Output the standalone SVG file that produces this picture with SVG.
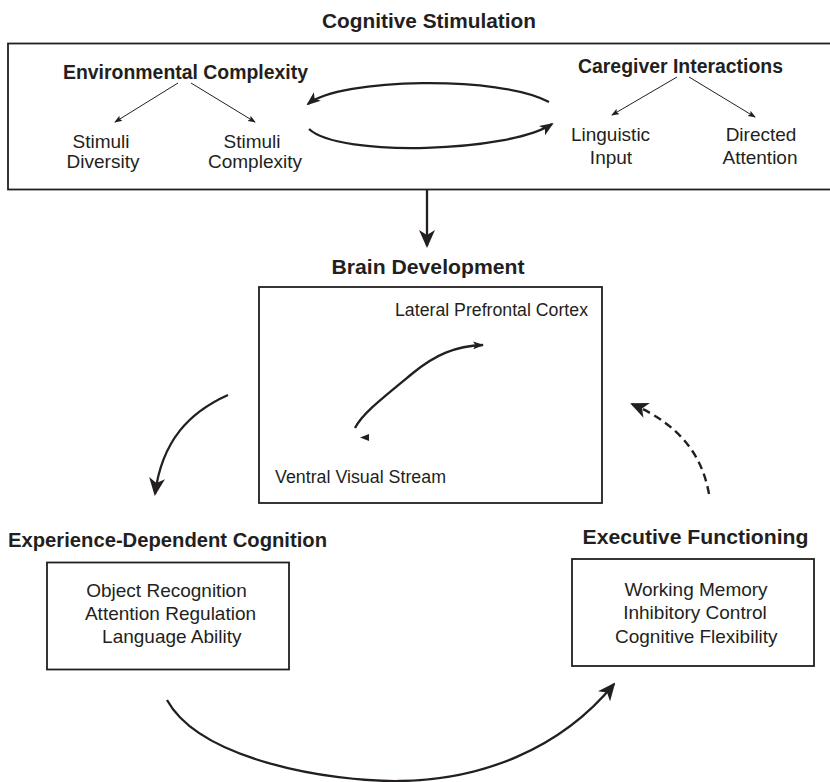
<svg xmlns="http://www.w3.org/2000/svg" width="830" height="782" viewBox="0 0 830 782">
<style>
.bg{fill:#ffffff}
.box{fill:none;stroke:#231f20;stroke-width:1.8}
.t{font-family:"Liberation Sans",Arial,Helvetica,sans-serif;fill:#231f20}
.b{font-weight:bold;font-size:20px}
.r{font-size:19px}
.s{font-size:17.5px}
.m{text-anchor:middle}
.thin{fill:none;stroke:#231f20;stroke-width:1}
.thick{fill:none;stroke:#231f20;stroke-width:2.3}
.dash{fill:none;stroke:#231f20;stroke-width:2.4;stroke-dasharray:8 5}
</style>
<defs>
<marker id="big" markerUnits="userSpaceOnUse" viewBox="0 0 18 16" markerWidth="18" markerHeight="16" refX="16" refY="8" orient="auto">
<path d="M0,0 L18,8 L0,16 L5,8 z" fill="#231f20"/>
</marker>
<marker id="med" markerUnits="userSpaceOnUse" viewBox="0 0 14 11" markerWidth="14" markerHeight="11" refX="12" refY="5.5" orient="auto">
<path d="M0,0 L14,5.5 L0,11 L3.5,5.5 z" fill="#231f20"/>
</marker>
<marker id="inner" markerUnits="userSpaceOnUse" viewBox="0 0 11 8" markerWidth="11" markerHeight="8" refX="10" refY="4" orient="auto">
<path d="M0,0 L11,4 L0,8 L2.5,4 z" fill="#231f20"/>
</marker>
<marker id="sm" markerUnits="userSpaceOnUse" viewBox="0 0 8 6" markerWidth="8" markerHeight="6" refX="7" refY="3" orient="auto">
<path d="M0,0 L8,3 L0,6 L1.5,3 z" fill="#231f20"/>
</marker>
</defs>
<rect class="bg" x="0" y="0" width="830" height="782"/>

<g id="cognitive-stimulation">
<text class="t b m" x="429" y="28" textLength="214" lengthAdjust="spacingAndGlyphs">Cognitive Stimulation</text>
<rect class="box" x="8" y="43.5" width="826" height="146"/>
</g>

<g id="environmental-complexity">
<text class="t b m" x="185.5" y="79" textLength="245" lengthAdjust="spacingAndGlyphs">Environmental Complexity</text>
</g>
<g id="stimuli-diversity">
<text class="t r m" x="101" y="148">Stimuli</text>
<text class="t r m" x="103" y="168">Diversity</text>
</g>
<g id="stimuli-complexity">
<text class="t r m" x="252" y="148">Stimuli</text>
<text class="t r m" x="255" y="168">Complexity</text>
</g>
<g id="caregiver-interactions">
<text class="t b m" x="680.5" y="73" textLength="205" lengthAdjust="spacingAndGlyphs">Caregiver Interactions</text>
</g>
<g id="linguistic-input">
<text class="t r m" x="610.5" y="141">Linguistic</text>
<text class="t r m" x="611" y="164">Input</text>
</g>
<g id="directed-attention">
<text class="t r m" x="761" y="141">Directed</text>
<text class="t r m" x="760" y="164">Attention</text>
</g>

<g id="brain-development">
<text class="t b m" x="428" y="274" textLength="193" lengthAdjust="spacingAndGlyphs">Brain Development</text>
<rect class="box" x="259" y="287" width="343" height="216"/>
</g>
<g id="lateral-prefrontal-cortex">
<text class="t s" x="395" y="316" textLength="193" lengthAdjust="spacingAndGlyphs">Lateral Prefrontal Cortex</text>
</g>
<g id="ventral-visual-stream">
<text class="t s" x="275" y="483" textLength="171" lengthAdjust="spacingAndGlyphs">Ventral Visual Stream</text>
</g>

<g id="experience-dependent-cognition">
<text class="t b m" x="167.5" y="547" textLength="319" lengthAdjust="spacingAndGlyphs">Experience-Dependent Cognition</text>
<rect class="box" x="47" y="562.5" width="242" height="107"/>
<text class="t r m" x="166.5" y="597">Object Recognition</text>
<text class="t r m" x="170.5" y="620">Attention Regulation</text>
<text class="t r m" x="171.8" y="643">Language Ability</text>
</g>

<g id="executive-functioning">
<text class="t b m" x="695.5" y="544" textLength="226" lengthAdjust="spacingAndGlyphs">Executive Functioning</text>
<rect class="box" x="572" y="559" width="242" height="107"/>
<text class="t r m" x="696" y="596">Working Memory</text>
<text class="t r m" x="695" y="619">Inhibitory Control</text>
<text class="t r m" x="696.3" y="643">Cognitive Flexibility</text>
</g>

<g id="connectors">
<path class="thin" d="M178,83 L115,122" marker-end="url(#sm)"/>
<path class="thin" d="M191,83 L255,122" marker-end="url(#sm)"/>
<path class="thin" d="M677,77 L612,115" marker-end="url(#sm)"/>
<path class="thin" d="M689,77 L755,117" marker-end="url(#sm)"/>
<path class="thick" d="M549,102 C500,75 340,78 308,104" marker-end="url(#med)"/>
<path class="thick" d="M309,129 C340,158 510,152 552,124" marker-end="url(#med)"/>
<path class="thick" d="M427,189 L427,246" marker-end="url(#big)"/>
<path class="thick" d="M355,428 C362,414 380,400 413,373 C435,355 455,346 483,345" marker-end="url(#inner)"/>
<polygon points="360,437.5 369,434 369,441" fill="#231f20"/>
<path class="thick" d="M228,395 C190,412 162,440 155,494" marker-end="url(#big)"/>
<path class="dash" d="M709,494 C702,455 680,425 632,404" marker-end="url(#big)"/>
<path class="thick" d="M167,700 C200,760 330,782 400,781 C480,780 560,750 614,684" marker-end="url(#big)"/>
</g>
</svg>
